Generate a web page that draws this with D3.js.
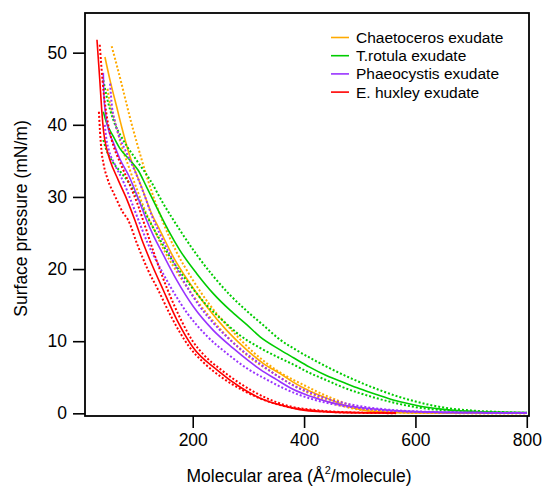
<!DOCTYPE html>
<html><head><meta charset="utf-8">
<script src="https://cdn.jsdelivr.net/npm/d3@7"></script>
<style>body{margin:0;background:#fff}svg{display:block}text{font-family:"Liberation Sans",Arial,sans-serif}</style>
</head><body><svg id="c" width="542" height="487"></svg>
<script>
const seriesNames = ["Chaetoceros exudate","T.rotula exudate","Phaeocystis exudate","E. huxley exudate"];
const seriesColors = ["#FFAA00","#00CC00","#9933FF","#FF0000"];
const xTicks = [200,400,600,800];
const yTicks = [0,10,20,30,40,50];

const chaetoMean = [[42.3,49.4],[51.4,46.2],[63.4,42.5],[72.4,39.7],[87.3,35.6],[108,31.4],[126,27.7],[141,25.4],[165,21.7],[195,18],[225,14.8],[261,11.5],[297,8.8],[327,6.9],[357,5.5],[381,4.3],[410,3.1],[441,2.1],[470,1.2],[490,0.7],[530,0.2],[600,0.06],[700,0.02],[800,0.01]];
const chaetoUpper = [[54.4,50.9],[63.4,48.3],[72.4,45.6],[81.4,42.8],[90,40.2],[100,37.4],[120,32.2],[145,26.8],[170,22.5],[200,18.5],[230,15.1],[270,11.5],[310,8.4],[350,6.0],[400,3.9],[450,2.1],[500,0.75],[550,0.25],[620,0.08],[700,0.03],[800,0.01]];
const chaetoLower = [[47,45],[50,43.5],[60,40.5],[70,37.6],[85,34.2],[100,31],[115,28],[130,25.6],[150,22.4],[175,19.2],[200,16.4],[230,13.4],[260,10.8],[300,7.9],[340,5.8],[380,3.9],[420,2.4],[460,1.2],[500,0.5],[550,0.18],[620,0.06],[700,0.02],[800,0.01]];

const rotulaMean = [[39.4,41.8],[45.5,40.2],[57.3,38.4],[69.4,36.7],[87.3,35.1],[102,33.7],[117,31.4],[135,28.6],[156,25.4],[177,22.6],[207,19.4],[237,16.6],[267,14.3],[297,12.3],[321,10.6],[357,8.8],[381,7.7],[410,6.4],[441,5.2],[470,4.3],[500,3.4],[530,2.6],[560,1.85],[590,1.3],[620,0.85],[650,0.55],[680,0.36],[720,0.2],[760,0.12],[800,0.08]];
const rotulaUpper = [[39.4,46.2],[45.5,43.9],[57.3,40.7],[75,37.9],[99,35.1],[123,32.4],[147,29.1],[177,25.4],[207,22],[237,19],[267,16.4],[297,14.2],[327,12.2],[357,10.2],[390,8.6],[420,7.3],[450,6.1],[480,5],[510,4],[540,3.1],[570,2.3],[600,1.65],[630,1.1],[660,0.7],[700,0.4],[750,0.2],[800,0.1]];
const rotulaLower = [[39.4,37.9],[45,36.5],[55,35],[70,33.5],[85,32],[100,30],[120,27],[140,24.2],[165,21],[195,17.8],[225,15],[255,12.8],[285,10.8],[320,9.1],[350,7.9],[380,6.8],[410,5.6],[440,4.6],[470,3.6],[500,2.8],[530,2.1],[560,1.5],[590,1.0],[620,0.65],[660,0.38],[700,0.22],[750,0.12],[800,0.07]];

const phaeoMean = [[39.4,47.2],[40.5,44],[43.5,41.5],[48,39.5],[57,37.6],[69,35.3],[86,32.8],[103,29.6],[117,26.8],[129,24.7],[147,22],[171,18.5],[201,14.8],[237,11.5],[273,9],[300,7.3],[321,6.1],[350,4.7],[381,3.3],[410,2.4],[441,1.65],[470,1.15],[500,0.8],[560,0.38],[620,0.2],[680,0.12],[740,0.08],[800,0.06]];
const phaeoUpper = [[51.5,45.7],[55,42.5],[60,40.5],[67,38.6],[80,36.3],[96,33.6],[113,30.3],[127,27.3],[140,25],[157,22.3],[181,18.7],[211,15],[247,11.7],[283,9.1],[320,6.9],[350,5.3],[380,3.9],[410,2.9],[440,2.05],[470,1.45],[500,1.0],[560,0.45],[620,0.22],[700,0.11],[800,0.07]];
const phaeoLower = [[42,40],[45,38],[50,36.3],[60,34.5],[76,32],[93,28.7],[107,25.9],[119,23.6],[137,20.8],[161,17.4],[191,13.8],[227,10.6],[263,8.2],[300,6.1],[330,4.8],[360,3.6],[390,2.6],[420,1.85],[450,1.3],[480,0.9],[540,0.42],[600,0.2],[680,0.09],[800,0.04]];

const huxleyMean = [[28,51.8],[33,46.3],[36.5,42.1],[40,39],[45,36.8],[51.4,35.1],[65.8,32.4],[82,29.6],[96,26.8],[109,24],[123,21.3],[147,17.1],[172,12.9],[200,9.2],[244,6],[285,3.65],[321,2.1],[357,1.15],[390,0.55],[440,0.2],[500,0.08],[565,0.03]];
const huxleyUpper = [[33,51.1],[36,48],[40,44.5],[45,41.5],[50,39.3],[58,37],[70,34.7],[85,32],[100,29.2],[115,25.8],[130,22.3],[155,17.1],[180,12.8],[200,10],[220,8.1],[250,6.1],[290,3.9],[330,2.2],[370,1.05],[420,0.45],[480,0.15],[565,0.05]];
const huxleyLower = [[31.5,41.8],[33.5,39],[36,36.5],[40,34.5],[47,32.5],[60,30.2],[75,27.8],[84,26.8],[100,23.5],[120,19.8],[138,17.1],[160,13.6],[194,9.2],[220,7],[250,5.1],[290,3.2],[330,1.8],[370,0.9],[420,0.35],[480,0.1],[565,0.02]];

const series = [
  {mean: chaetoMean, upper: chaetoUpper, lower: chaetoLower},
  {mean: rotulaMean, upper: rotulaUpper, lower: rotulaLower},
  {mean: phaeoMean, upper: phaeoUpper, lower: phaeoLower},
  {mean: huxleyMean, upper: huxleyUpper, lower: huxleyLower}
];

const svg = d3.select("#c");
const L = 85, R = 529, T = 13, B = 416;
const x = d3.scaleLinear().domain([6.5, 804]).range([L, R]);
const y = d3.scaleLinear().domain([-0.37, 55.5]).range([B, T]);

const line = d3.line().x(d => x(d[0])).y(d => y(d[1])).curve(d3.curveMonotoneX);

const plot = svg.append("g");
series.forEach((s, i) => {
  const c = seriesColors[i];
  [s.upper, s.lower].forEach(d => {
    plot.append("path").attr("d", line(d)).attr("fill", "none")
      .attr("stroke", c).attr("stroke-width", 2).attr("stroke-dasharray", "2,2");
  });
  plot.append("path").attr("d", line(s.mean)).attr("fill", "none")
    .attr("stroke", c).attr("stroke-width", 1.6);
});

// frame
svg.append("rect").attr("x", L).attr("y", T).attr("width", R - L).attr("height", B - T)
  .attr("fill", "none").attr("stroke", "#000").attr("stroke-width", 1.8);

const xAxis = d3.axisBottom(x).tickValues(xTicks).tickSize(12).tickPadding(6);
const gx = svg.append("g").attr("transform", `translate(0,${B})`).call(xAxis);
gx.select(".domain").remove();
gx.selectAll("line").attr("stroke-width", 1.6);
gx.selectAll("text").attr("font-size", 17.5).attr("fill", "#000").attr("font-family", "Liberation Sans, Arial, sans-serif");

const yAxis = d3.axisLeft(y).tickValues(yTicks).tickSize(12).tickPadding(6);
const gy = svg.append("g").attr("transform", `translate(${L},0)`).call(yAxis);
gy.select(".domain").remove();
gy.selectAll("line").attr("stroke-width", 1.6);
gy.selectAll("text").attr("font-size", 17.5).attr("fill", "#000").attr("font-family", "Liberation Sans, Arial, sans-serif");

// axis titles
const xt = svg.append("text").attr("x", (L + R) / 2 - 8).attr("y", 482).attr("text-anchor", "middle")
  .attr("font-size", 17.5);
xt.append("tspan").text("Molecular area (Å");
xt.append("tspan").attr("font-size", 11).attr("dy", -8).text("2");
xt.append("tspan").attr("dy", 8).text("/molecule)");

svg.append("text").attr("transform", `translate(27,${(T + B) / 2 + 4}) rotate(-90)`)
  .attr("text-anchor", "middle").attr("font-size", 17.5).text("Surface pressure (mN/m)");

// legend
const lg = svg.append("g");
seriesNames.forEach((n, i) => {
  const yy = 37.5 + i * 18.2;
  lg.append("line").attr("x1", 331).attr("x2", 349).attr("y1", yy).attr("y2", yy)
    .attr("stroke", seriesColors[i]).attr("stroke-width", 1.6);
  lg.append("text").attr("x", 356).attr("y", yy).attr("dy", "0.36em").attr("font-size", 15.5).text(n);
});
</script></body></html>
